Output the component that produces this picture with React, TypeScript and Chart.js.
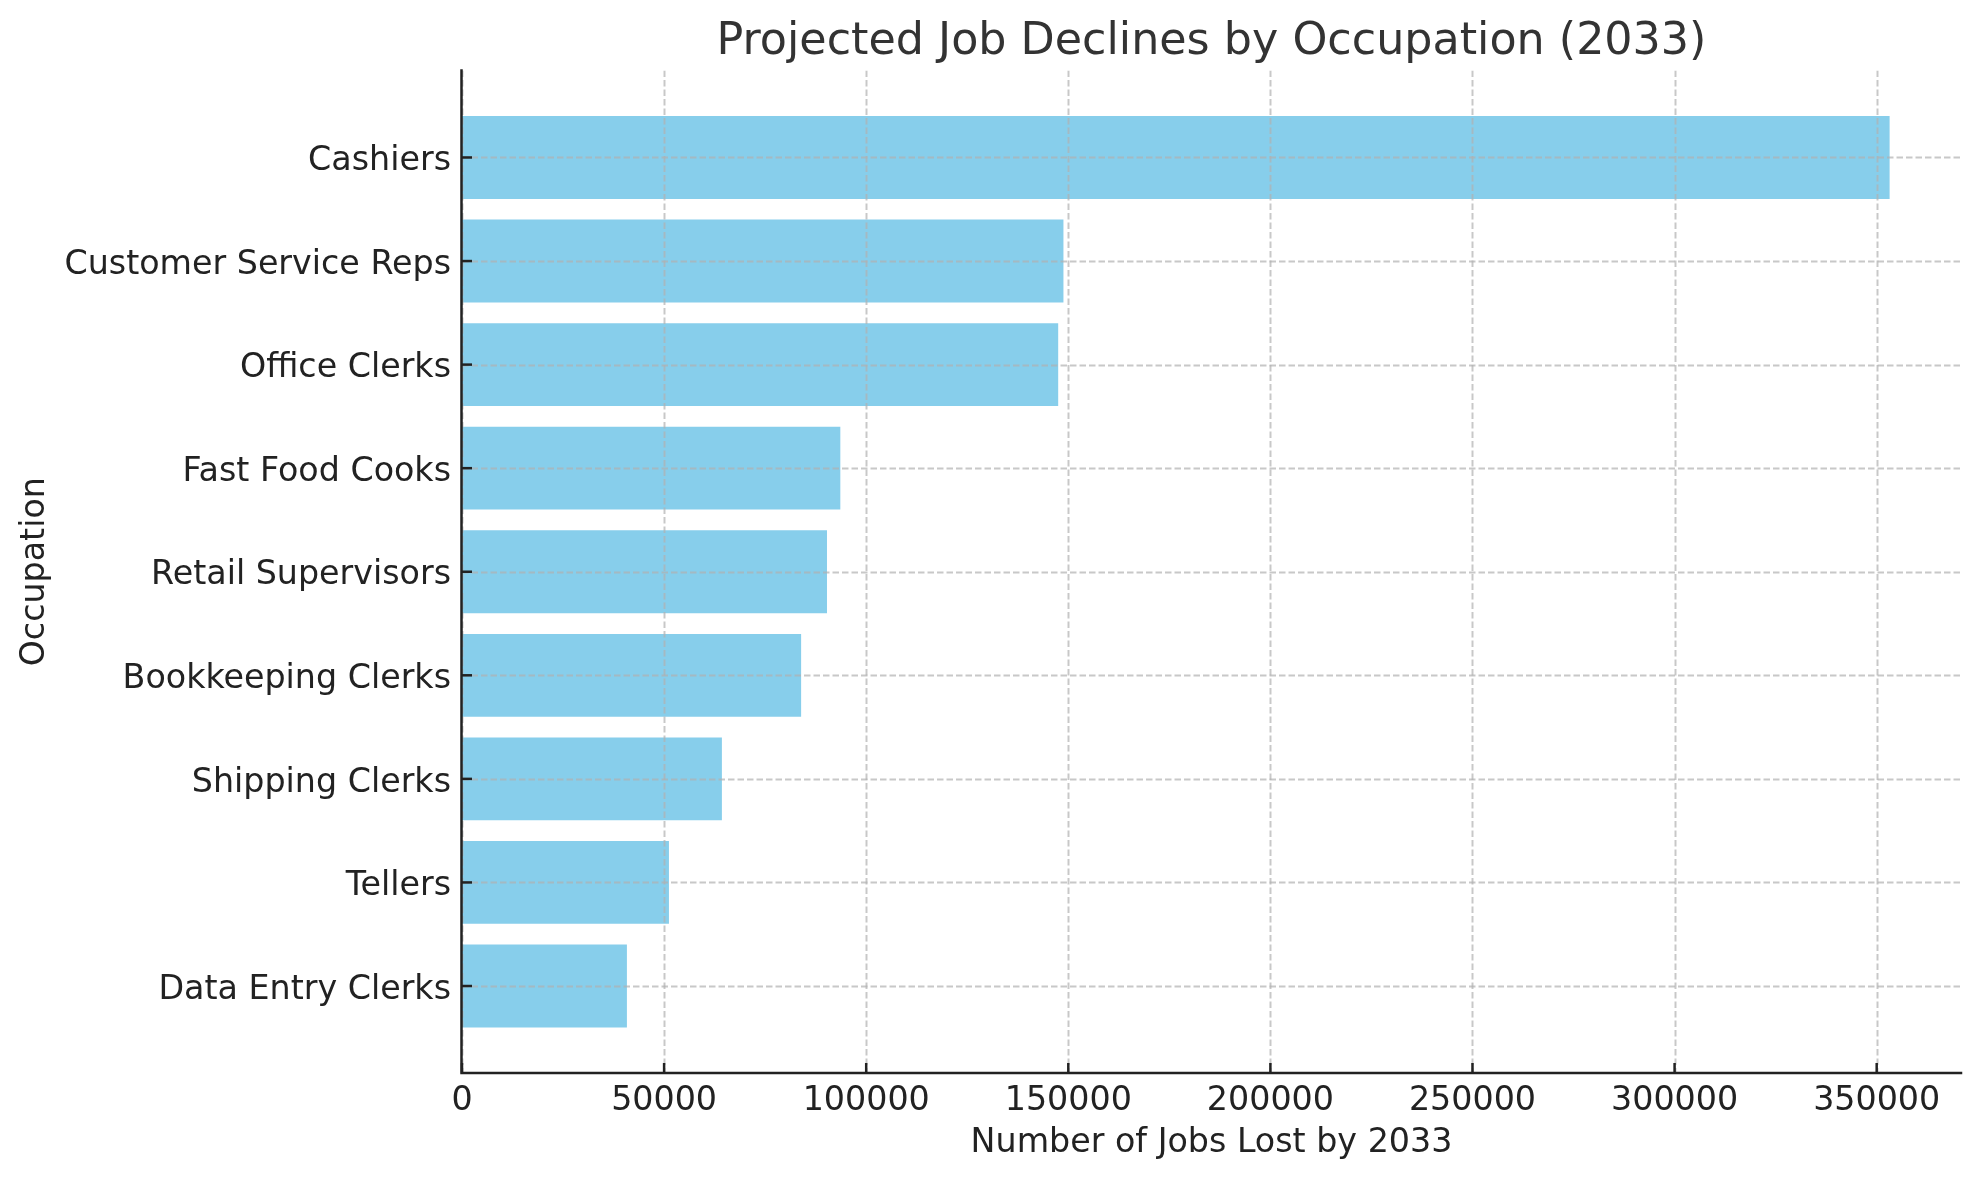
import React, { useEffect, useRef } from 'react';
import { Chart, registerables } from 'chart.js';

Chart.register(...registerables);

const occupations = [
  'Cashiers',
  'Customer Service Reps',
  'Office Clerks',
  'Fast Food Cooks',
  'Retail Supervisors',
  'Bookkeeping Clerks',
  'Shipping Clerks',
  'Tellers',
  'Data Entry Clerks',
];
const jobsLost = [353200, 148800, 147500, 93600, 90300, 83900, 64300, 51200, 40800];
const xTickValues = [0, 50000, 100000, 150000, 200000, 250000, 300000, 350000];
const chartTitle = 'Projected Job Declines by Occupation (2033)';
const xAxisLabel = 'Number of Jobs Lost by 2033';
const yAxisLabel = 'Occupation';

const FAMILY = "'DejaVu Sans', 'Liberation Sans', sans-serif";

const overGrid = {
  id: 'overGrid',
  afterDatasetsDraw(chart: any) {
    const { ctx, chartArea: a, scales } = chart;
    const x = scales.x;
    const y = scales.y;
    ctx.save();
    ctx.beginPath();
    ctx.rect(a.left, a.top, a.right - a.left, a.bottom - a.top);
    ctx.clip();
    ctx.strokeStyle = 'rgba(176,176,176,0.7)';
    ctx.lineWidth = 2;
    ctx.setLineDash([6.5, 3]);
    x.ticks.forEach((t: any) => {
      const px = Math.round(x.getPixelForValue(t.value)) + 0.5;
      ctx.beginPath();
      ctx.moveTo(px, a.top);
      ctx.lineTo(px, a.bottom);
      ctx.stroke();
    });
    y.ticks.forEach((t: any) => {
      const py = Math.round(y.getPixelForValue(t.value)) + 0.5;
      ctx.beginPath();
      ctx.moveTo(a.left, py);
      ctx.lineTo(a.right, py);
      ctx.stroke();
    });
    ctx.restore();

    ctx.save();
    ctx.setLineDash([]);
    ctx.strokeStyle = '#222222';
    ctx.lineWidth = 2.5;
    x.ticks.forEach((t: any) => {
      const px = x.getPixelForValue(t.value);
      ctx.beginPath();
      ctx.moveTo(px, a.bottom);
      ctx.lineTo(px, a.bottom - 10);
      ctx.stroke();
    });
    y.ticks.forEach((t: any) => {
      const py = y.getPixelForValue(t.value);
      ctx.beginPath();
      ctx.moveTo(a.left, py);
      ctx.lineTo(a.left + 10, py);
      ctx.stroke();
    });
    ctx.lineCap = 'square';
    ctx.beginPath();
    ctx.moveTo(a.left - 0.5, a.top);
    ctx.lineTo(a.left - 0.5, a.bottom);
    ctx.lineTo(a.right, a.bottom);
    ctx.stroke();
    ctx.restore();
  },
};

export default function App() {
  const canvasRef = useRef<HTMLCanvasElement | null>(null);

  useEffect(() => {
    const canvas = canvasRef.current;
    if (!canvas) return;
    const tickFont = { family: FAMILY, size: 33.3, weight: 'normal' as const };
    const chart = new Chart(canvas, {
      type: 'bar',
      data: {
        datasets: [
          {
            data: occupations.map((_, i) => ({ x: jobsLost[i], y: i })),
            backgroundColor: '#87CEEB',
            borderWidth: 0,
            barPercentage: 0.8,
            categoryPercentage: 1,
          },
        ],
      },
      options: {
        indexAxis: 'y',
        responsive: false,
        animation: false,
        devicePixelRatio: 1,
        layout: { padding: { top: 0, right: 18, bottom: 0, left: 0 } },
        plugins: {
          legend: { display: false },
          tooltip: { enabled: false },
          title: {
            display: true,
            text: chartTitle,
            fullSize: false,
            color: '#333333',
            font: { family: FAMILY, size: 44.4, weight: 'normal' },
            padding: { top: 15.5, bottom: 1.7 },
          },
        },
        scales: {
          x: {
            type: 'linear',
            position: 'bottom',
            offset: false,
            min: 0,
            max: 370860,
            afterBuildTicks: (s: any) => {
              s.ticks = xTickValues.map((v) => ({ value: v }));
            },
            afterFit: (s: any) => {
              s.height = 107;
            },
            grid: { display: false, drawTicks: false, tickLength: 0 },
            border: { display: false },
            ticks: {
              callback: (v: any) => String(v),
              color: '#222222',
              font: tickFont,
              padding: 8,
              maxRotation: 0,
              autoSkip: false,
            },
            title: {
              display: true,
              text: xAxisLabel,
              color: '#222222',
              font: tickFont,
              padding: { top: 0, bottom: 16.5 },
            },
          },
          y: {
            type: 'linear',
            reverse: true,
            offset: false,
            min: -0.84,
            max: 8.84,
            afterBuildTicks: (s: any) => {
              s.ticks = occupations.map((_, i) => ({ value: i }));
            },
            afterFit: (s: any) => {
              s.width = 462;
            },
            grid: { display: false, drawTicks: false, tickLength: 0 },
            border: { display: false },
            ticks: {
              callback: (v: any) => occupations[v as number] ?? '',
              color: '#222222',
              font: tickFont,
              padding: 11,
              labelOffset: 4,
              autoSkip: false,
            },
            title: {
              display: true,
              text: yAxisLabel,
              color: '#222222',
              font: tickFont,
              padding: { top: 15, bottom: 0 },
            },
          },
        },
      } as any,
      plugins: [overGrid],
    });
    return () => chart.destroy();
  }, []);

  return (
    <div style={{ position: 'absolute', left: 0, top: 0, width: 1979, height: 1180, background: '#ffffff' }}>
      <canvas ref={canvasRef} width={1979} height={1180} style={{ display: 'block', width: 1979, height: 1180 }} />
    </div>
  );
}
